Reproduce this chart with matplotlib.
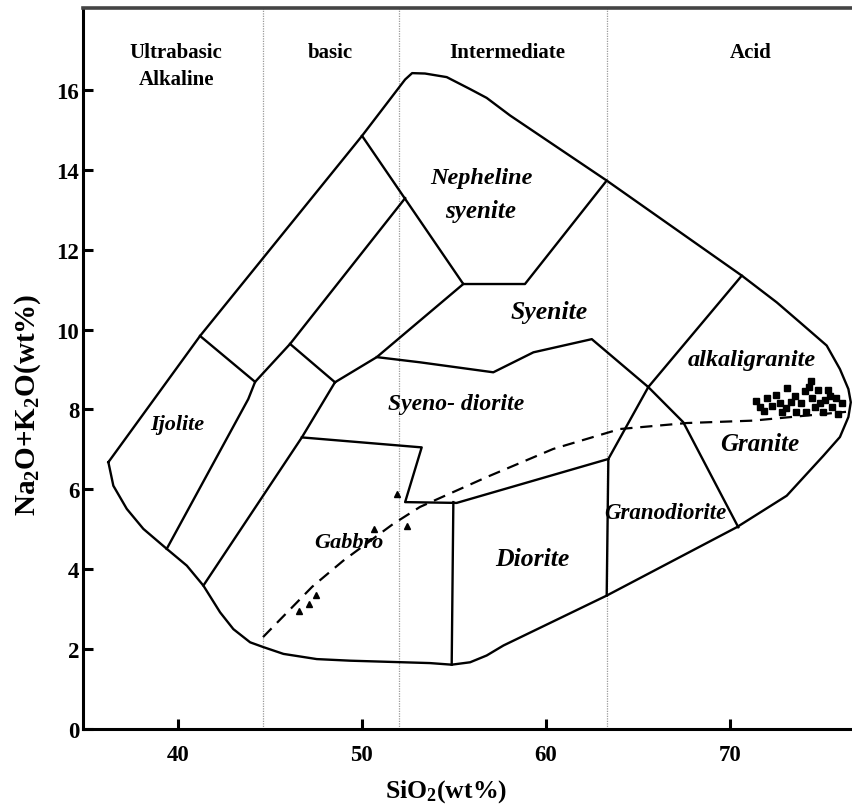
import matplotlib
matplotlib.use('Agg')
import matplotlib.pyplot as plt

plt.rcParams['font.family'] = ['Liberation Serif', 'DejaVu Serif']
plt.rcParams['mathtext.fontset'] = 'custom'
plt.rcParams['mathtext.rm'] = 'Liberation Serif:bold'
plt.rcParams['mathtext.it'] = 'Liberation Serif:bold:italic'
plt.rcParams['mathtext.bf'] = 'Liberation Serif:bold'

# ---- classification diagram boundaries (SiO2, Na2O+K2O) ----
outer_x = [36.23, 41.21, 50.01, 52.35, 52.73, 53.43, 54.61, 55.88, 56.78, 58.05, 63.30, 70.64,
           72.54, 73.80, 75.25, 75.97, 76.43, 76.56, 76.43, 75.97, 75.07, 73.08, 70.36, 63.30,
           57.69, 56.78, 55.88, 54.88, 53.70, 49.36, 47.55, 45.74, 44.65, 43.93, 43.02, 42.30,
           41.39, 40.49, 39.40, 38.13, 37.23, 36.50, 36.23]
outer_y = [6.68, 9.84, 14.85, 16.26, 16.42, 16.41, 16.32, 16.02, 15.80, 15.36, 13.73, 11.35,
           10.68, 10.18, 9.60, 9.01, 8.51, 8.18, 7.81, 7.31, 6.84, 5.84, 5.05, 3.34,
           2.09, 1.84, 1.67, 1.61, 1.65, 1.71, 1.75, 1.88, 2.05, 2.17, 2.50, 2.92,
           3.59, 4.09, 4.51, 5.01, 5.51, 6.09, 6.68]

ijolite_top_x = [41.21, 44.20]
ijolite_top_y = [9.84, 8.69]
line_c_x = [52.35, 46.10, 44.20, 43.83, 39.40]
line_c_y = [13.29, 9.64, 8.69, 8.26, 4.51]
line_d_x = [46.10, 48.54]
line_d_y = [9.64, 8.68]
line_e_x = [48.54, 50.81, 55.51]
line_e_y = [8.68, 9.31, 11.14]
line_f_x = [48.54, 46.74, 41.39]
line_f_y = [8.68, 7.30, 3.59]
neph_x = [50.01, 55.51, 58.86, 63.30]
neph_y = [14.85, 11.14, 11.14, 13.73]
syen_low_x = [50.81, 53.16, 57.14, 59.32, 62.49, 65.56]
syen_low_y = [9.31, 9.18, 8.93, 9.43, 9.76, 8.56]
alkgr_left_x = [65.56, 70.64]
alkgr_left_y = [8.56, 11.35]
grd_left_x = [65.56, 63.39, 63.30]
grd_left_y = [8.56, 6.76, 3.34]
granite_left_x = [65.56, 67.46, 70.45]
granite_left_y = [8.56, 7.68, 5.05]
gabbro_top_x = [46.74, 53.25, 52.35, 55.15, 63.39]
gabbro_top_y = [7.30, 7.05, 5.68, 5.66, 6.76]
diorite_left_x = [54.97, 54.88]
diorite_left_y = [5.68, 1.61]

# alkaline / subalkaline divide
divide_x = [44.63, 47.30, 48.98, 51.69, 53.16, 56.80, 60.39, 64.02, 67.66, 71.25, 76.30]
divide_y = [2.30, 3.56, 4.21, 5.13, 5.56, 6.31, 7.01, 7.51, 7.66, 7.72, 7.94]

# silica group divisions
group_div = [44.65, 52.0, 63.3]
group_names = ['Ultrabasic', 'Alkaline', 'basic', 'Intermediate', 'Acid']
group_x = [39.91, 39.91, 48.27, 57.89, 71.14]
group_y = [16.95, 16.27, 16.95, 16.95, 16.95]

# rock names
rock_names = ['Nepheline', 'syenite', 'Syenite', 'alkaligranite', 'Granite', 'Granodiorite',
              'Diorite', 'Gabbro', 'Ijolite', 'Syeno- diorite']
rock_x = [56.47, 56.47, 60.17, 71.20, 71.64, 66.47, 59.25, 49.30, 39.96, 55.12]
rock_y = [13.81, 12.99, 10.44, 9.26, 7.14, 5.41, 4.26, 4.68, 7.64, 8.16]
rock_fs = [17.5, 18, 18.5, 17.5, 18, 16.5, 18.5, 16, 16, 17]

# samples
tri_x = [51.90, 52.44, 50.66, 46.59, 47.13, 47.51]
tri_y = [5.88, 5.08, 5.01, 2.95, 3.13, 3.35]
sq_x = [71.41, 71.85, 72.01, 72.28, 72.50, 72.71, 72.82, 73.09, 73.31, 73.53, 73.58, 73.86,
        74.07, 74.13, 74.40, 74.46, 74.62, 74.78, 75.05, 75.16, 75.33, 75.54, 75.76, 75.87,
        76.09, 71.63, 73.04, 74.89, 74.29, 75.43]
sq_y = [8.21, 7.96, 8.29, 8.09, 8.36, 8.16, 7.94, 8.54, 8.19, 8.34, 7.94, 8.16,
        8.46, 7.94, 8.71, 8.29, 8.06, 8.49, 7.94, 8.24, 8.49, 8.06, 8.29, 7.89,
        8.16, 8.06, 8.04, 8.16, 8.56, 8.34]

xticks = [40, 50, 60, 70]
yticks = [0, 2, 4, 6, 8, 10, 12, 14, 16]

fig = plt.figure(figsize=(8.53, 8.12), dpi=100)
ax = fig.add_axes([0.0977, 0.101, 0.9023, 0.8879])
ax.set_xlim(34.87, 76.68)
ax.set_ylim(0, 18.05)

for gx in group_div:
    ax.axvline(gx, color='#9a9a9a', lw=0.9, ls=(0, (1, 1)), zorder=1)

lw = 1.7
ax.plot(outer_x, outer_y, color='black', lw=lw, solid_joinstyle='round')
for xs, ys in [(ijolite_top_x, ijolite_top_y), (line_c_x, line_c_y), (line_d_x, line_d_y),
               (line_e_x, line_e_y), (line_f_x, line_f_y), (neph_x, neph_y),
               (syen_low_x, syen_low_y), (alkgr_left_x, alkgr_left_y),
               (grd_left_x, grd_left_y), (granite_left_x, granite_left_y),
               (gabbro_top_x, gabbro_top_y), (diorite_left_x, diorite_left_y)]:
    ax.plot(xs, ys, color='black', lw=lw)

ax.plot(divide_x, divide_y, color='black', lw=1.6, ls=(0, (5.5, 3.5)))

ax.plot(tri_x, tri_y, ls='none', marker='^', ms=5, color='black')
ax.plot(sq_x, sq_y, ls='none', marker='s', ms=4.6, color='black')

for name, x, y in zip(group_names, group_x, group_y):
    ax.text(x, y, name, ha='center', va='center', fontsize=15, fontweight='bold')
for name, x, y, fs in zip(rock_names, rock_x, rock_y, rock_fs):
    ax.text(x, y, name, ha='center', va='center', fontsize=fs, fontweight='bold',
            fontstyle='italic')

ax.set_xticks(xticks)
ax.set_yticks(yticks)
ax.set_xticklabels([str(v) for v in xticks], fontsize=16.5, fontweight='bold')
ax.set_yticklabels([str(v) for v in yticks], fontsize=16.5, fontweight='bold')
ax.tick_params(direction='in', length=7, width=2.2, pad=3)
ax.tick_params(axis='x', pad=11)
for s in ['left', 'bottom']:
    ax.spines[s].set_linewidth(2.2)
ax.spines['top'].set_linewidth(2.6)
ax.spines['top'].set_color('#444444')
ax.spines['right'].set_visible(False)

fig.text(0.523, 0.0246, r'SiO$_{2}$(wt%)', ha='center', va='center', fontsize=18.5,
         fontweight='bold')
fig.text(0.0328, 0.5012, r'Na$_{2}$O+K$_{2}$O(wt%)', ha='center', va='center', fontsize=21,
         fontweight='bold', rotation=90)

fig.savefig('out.png', dpi=100)
